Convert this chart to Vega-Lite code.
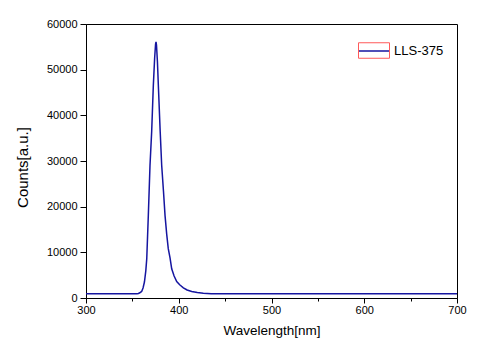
{
  "$schema": "https://vega.github.io/schema/vega-lite/v6.json",
  "width": 371,
  "height": 274,
  "autosize": "none",
  "padding": {"left": 86, "top": 24, "right": 23, "bottom": 62},
  "background": "white",
  "config": {
    "font": "Liberation Sans",
    "view": {"stroke": "black", "strokeWidth": 1},
    "axis": {"grid": false, "domainColor": "black", "tickColor": "black", "labelColor": "black", "titleColor": "black", "labelFont": "Liberation Sans", "titleFont": "Liberation Sans", "titleFontWeight": "normal"},
    "legend": {"padding": 0}
  },
  "data": {"values": [
    {"wl": 300, "counts": 920},
    {"wl": 340, "counts": 920},
    {"wl": 350, "counts": 930},
    {"wl": 355, "counts": 950},
    {"wl": 356.5, "counts": 1000},
    {"wl": 358, "counts": 1150},
    {"wl": 360, "counts": 1430},
    {"wl": 361.5, "counts": 2200},
    {"wl": 363, "counts": 3500},
    {"wl": 364.5, "counts": 6000},
    {"wl": 365.5, "counts": 8600},
    {"wl": 367.2, "counts": 18100},
    {"wl": 369, "counts": 29000},
    {"wl": 370.8, "counts": 36400},
    {"wl": 372.6, "counts": 46600},
    {"wl": 374, "counts": 52500},
    {"wl": 375, "counts": 55600},
    {"wl": 375.5, "counts": 56100},
    {"wl": 376, "counts": 55400},
    {"wl": 377, "counts": 51800},
    {"wl": 378, "counts": 46600},
    {"wl": 380, "counts": 36400},
    {"wl": 381.6, "counts": 29070},
    {"wl": 383.5, "counts": 23500},
    {"wl": 385.2, "counts": 18100},
    {"wl": 387, "counts": 14000},
    {"wl": 388.7, "counts": 10800},
    {"wl": 390.6, "counts": 8800},
    {"wl": 392.4, "counts": 6400},
    {"wl": 395, "counts": 4800},
    {"wl": 397.8, "counts": 3600},
    {"wl": 401, "counts": 2900},
    {"wl": 405, "counts": 2240},
    {"wl": 409, "counts": 1750},
    {"wl": 414, "counts": 1430},
    {"wl": 420, "counts": 1200},
    {"wl": 426.5, "counts": 1050},
    {"wl": 435, "counts": 950},
    {"wl": 450, "counts": 920},
    {"wl": 700, "counts": 920}
  ]},
  "layer": [
    {
      "mark": {"type": "line", "strokeWidth": 1.5, "clip": true},
      "encoding": {
        "x": {"field": "wl", "type": "quantitative", "scale": {"domain": [300, 700], "nice": false},
          "axis": {"orient": "bottom", "title": "Wavelength[nm]", "titleFontSize": 13.5, "titlePadding": 8,
            "values": [300, 350, 400, 450, 500, 550, 600, 650, 700],
            "labelExpr": "datum.value % 100 === 0 ? datum.label : ''", "format": "d",
            "labelFontSize": 11, "labelPadding": 1, "labelFlush": false,
            "tickSize": {"condition": {"test": "datum.value % 100 === 0", "value": 5}, "value": 3}}},
        "y": {"field": "counts", "type": "quantitative", "scale": {"domain": [0, 60000], "nice": false},
          "axis": {"title": "Counts[a.u.]", "titleFontSize": 15, "titleBaseline": "middle", "titleX": -64, "titleY": 143, "titleAngle": -90,
            "values": [0, 5000, 10000, 15000, 20000, 25000, 30000, 35000, 40000, 45000, 50000, 55000, 60000],
            "labelExpr": "datum.value % 10000 === 0 ? datum.label : ''", "format": "d",
            "labelFontSize": 11, "labelPadding": 3, "labelFlush": false,
            "tickSize": {"condition": {"test": "datum.value % 10000 === 0", "value": 6}, "value": 3}}},
        "color": {"datum": "LLS-375", "scale": {"range": ["#1515a0"]},
          "legend": {"title": null, "orient": "none", "legendX": 272, "legendY": 10.5,
            "symbolType": "stroke", "symbolSize": 961, "symbolStrokeWidth": 1.5, "symbolStrokeColor": "#1515a0",
            "labelFontSize": 13, "labelColor": "black", "labelOffset": 3, "labelFont": "Liberation Sans"}}
      }
    },
    {
      "mark": {"type": "point", "opacity": 0},
      "encoding": {
        "x": {"field": "wl", "type": "quantitative"},
        "y": {"field": "counts", "type": "quantitative"},
        "shape": {"datum": "box", "scale": {"range": ["M-1,-0.5H1V0.5H-1Z"]},
          "legend": {"title": null, "orient": "none", "legendX": 272, "legendY": 10.5,
            "symbolSize": 961, "symbolStrokeWidth": 1, "symbolStrokeColor": "#ff5a5a", "symbolFillColor": "transparent",
            "symbolOpacity": 1, "labelExpr": "''", "labelOffset": 3, "labelFontSize": 13}}
      }
    }
  ]
}
